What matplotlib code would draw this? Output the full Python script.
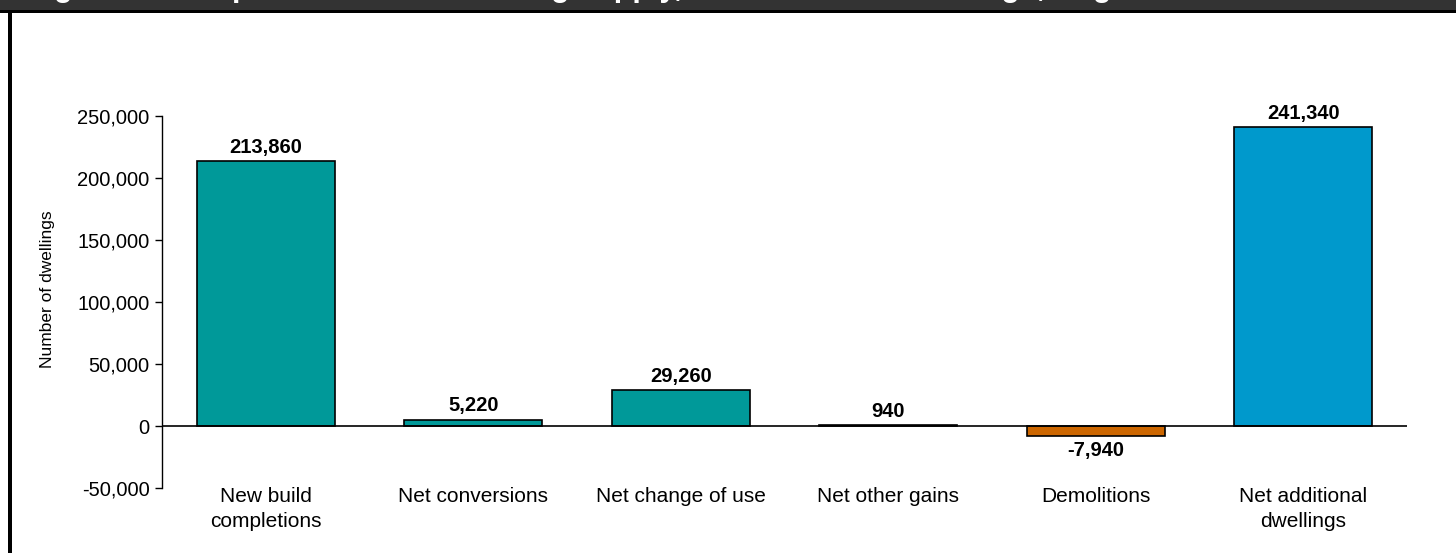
import matplotlib
matplotlib.use("Agg")
import matplotlib.pyplot as plt
from matplotlib.patches import Rectangle
from matplotlib.ticker import FuncFormatter

plt.rcParams['font.family'] = ['Liberation Sans', 'DejaVu Sans']

categories = ["New build\ncompletions", "Net conversions", "Net change of use",
              "Net other gains", "Demolitions", "Net additional\ndwellings"]
values = [213860, 5220, 29260, 940, -7940, 241340]
colours = ["#009999", "#009999", "#009999", "#009999", "#CC6600", "#0099CC"]
yticks = [-50000, 0, 50000, 100000, 150000, 200000, 250000]
title = "Figure 1: Components of net housing supply, net additional dwellings, England 2022-23"

W, H = 1456, 553
fig = plt.figure(figsize=(W / 100, H / 100), dpi=100)
fig.patch.set_facecolor("white")

# header band with the title running off the top edge
fig.patches.append(Rectangle((0, 1 - 10 / H), 1, 10 / H, transform=fig.transFigure,
                             facecolor="#333333", edgecolor="none", zorder=0))
fig.patches.append(Rectangle((0, 1 - 13 / H), 1, 3 / H, transform=fig.transFigure,
                             facecolor="black", edgecolor="none", zorder=1))
fig.patches.append(Rectangle((8 / W, 0), 4 / W, 1 - 10 / H, transform=fig.transFigure,
                             facecolor="black", edgecolor="none", zorder=1))
fig.text(27 / W, 1 + 4 / H, title, color="white", fontsize=22, fontweight="bold",
         va="baseline", ha="left")

ax = fig.add_axes([162 / W, 1 - 488 / H, (1407 - 162) / W, (488 - 116) / H])
x = list(range(len(categories)))
bars = ax.bar(x, values, width=0.665, color=colours, edgecolor="black", linewidth=1.2, zorder=2)

ax.set_xlim(-0.5, len(categories) - 0.5)
ax.set_ylim(-50000, 250000)
ax.set_yticks(yticks)
ax.yaxis.set_major_formatter(FuncFormatter(lambda v, p: f"{int(v):,}"))
ax.tick_params(axis="y", direction="out", length=5, width=1, labelsize=14.5, pad=4)
ax.axhline(0, color="black", linewidth=1.2, zorder=3)

ax.set_xticks(x)
ax.set_xticklabels(categories, fontsize=15, linespacing=1.4)
ax.tick_params(axis="x", length=0, pad=-1)

for s in ["top", "right", "bottom"]:
    ax.spines[s].set_visible(False)
ax.spines["left"].set_linewidth(1)

ax.set_ylabel("Number of dwellings", fontsize=12.5)
ax.yaxis.set_label_coords(-0.086, 0.535)

for b, v in zip(bars, values):
    if v >= 0:
        ax.annotate(f"{v:,}", (b.get_x() + b.get_width() / 2, v), xytext=(0, 3),
                    textcoords="offset points", ha="center", va="bottom",
                    fontsize=14.5, fontweight="bold")
    else:
        ax.annotate(f"{v:,}", (b.get_x() + b.get_width() / 2, v), xytext=(0, -4),
                    textcoords="offset points", ha="center", va="top",
                    fontsize=14.5, fontweight="bold")

fig.savefig("out.png", dpi=100)
